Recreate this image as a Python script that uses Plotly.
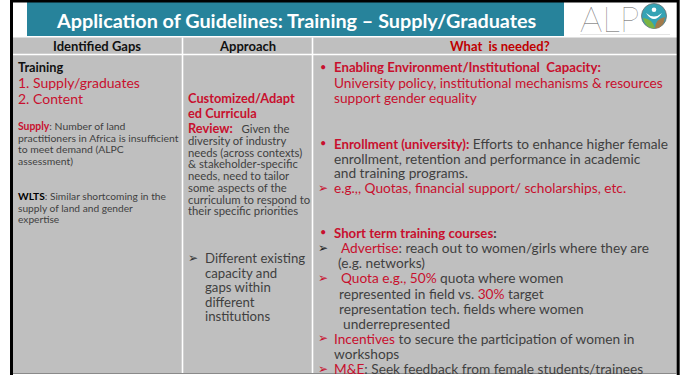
import plotly.graph_objects as go

# ---------------- content ----------------
title_text = "Application of Guidelines: Training – Supply/Graduates"
header_labels = ["Identified Gaps", "Approach", "What  is needed?"]
logo_letters = "ALP"

RED = "#C8102E"
GRAY = "#3F3F3F"
BOLD_SIZE = 13.2

def r(t):
    return f"<span style='color:{RED}'>{t}</span>"

def rb(t, size=None):
    st = f"color:{RED}" + (f";font-size:{size}px" if size else "")
    return f"<b><span style='{st}'>{t}</span></b>"

gaps_head = ["<b>Training</b>"]
gaps_items = [r("1. Supply/graduates"), r("2. Content")]
gaps_supply = [rb("Supply") + ": Number of land",
               "practitioners in Africa is insufficient",
               "to meet demand (ALPC",
               "assessment)"]
gaps_wlts = ["<b><span style='color:#000'>WLTS</span></b>: Similar shortcoming in the",
             "supply of land and gender",
             "expertise"]

approach_title = [rb("Customized/Adapt"), rb("ed Curricula")]
approach_review_first = rb("Review:") + "<span style='font-size:11.3px'>   Given the</span>"
approach_review = ["diversity of industry",
                   "needs (across contexts)",
                   "& stakeholder-specific",
                   "needs, need to tailor",
                   "some aspects of the",
                   "curriculum to respond to",
                   "their specific priorities"]
approach_bullet = ["Different existing",
                   "capacity and",
                   "gaps within",
                   "different",
                   "institutions"]

needed_enabling = [rb("Enabling Environment/Institutional  Capacity:", BOLD_SIZE),
                   r("University policy, institutional mechanisms & resources"),
                   r("support gender equality")]
needed_enroll = [rb("Enrollment (university):", BOLD_SIZE) + " Efforts to enhance higher female",
                 "enrollment, retention and performance in academic",
                 "and training programs."]
needed_eg = r("e.g.,, Quotas, financial support/ scholarships, etc.")
needed_short_head = rb("Short term training courses", BOLD_SIZE) + f"<b><span style='font-size:{BOLD_SIZE}px'>:</span></b>"
# (text, arrow colour or None, indent)
needed_short = [(r("Advertise") + ": reach out to women/girls where they are", "#222", 7),
                ("(e.g. networks)", None, 4),
                (r("Quota e.g., 50%") + " quota where women", RED, 7),
                ("represented in field vs. " + r("30%") + " target", None, 5),
                ("representation tech. fields where women", None, 5),
                ("underrepresented", None, 9),
                (r("Incentives") + " to secure the participation of women in", RED, 0),
                ("workshops", None, 0),
                (r("M&E") + ": Seek feedback from female students/trainees", RED, 0)]

# ---------------- figure ----------------
W, H = 685, 375
FONT = "Lato"
fig = go.Figure()
shapes = []
ann = []

def rect(x0, y0, x1, y1, fill):
    shapes.append(dict(type="rect", xref="x", yref="y", x0=x0, y0=y0, x1=x1, y1=y1,
                       fillcolor=fill, line=dict(width=0), layer="below"))

def line(x0, y0, x1, y1, color, w):
    shapes.append(dict(type="line", xref="x", yref="y", x0=x0, y0=y0, x1=x1, y1=y1,
                       line=dict(color=color, width=w)))

def text(x, y, t, size, color=GRAY, anchor="left", family=FONT):
    ann.append(dict(x=x, y=y, xref="x", yref="y", text=t, showarrow=False,
                    xanchor=anchor, yanchor="middle",
                    font=dict(size=size, color=color, family=family)))

def block(lines, x, y0, dy, size, color=GRAY):
    for i, t in enumerate(lines):
        text(x, y0 + i * dy, t, size, color)

def arrow(x, y, color, size=12):
    text(x, y, "➢", size, color, family="DejaVu Sans")

# background areas
rect(12, 1, 678, 374, "white")
rect(27, 2, 564, 36, "#27839B")
rect(13, 37.5, 677, 373, "#BFBFBF")
line(13, 54.5, 677, 54.5, "white", 1.6)
line(182.5, 37.5, 182.5, 373, "white", 1.6)
line(312.5, 37.5, 312.5, 373, "white", 1.6)
# frame
line(11.5, 0, 11.5, 375, "black", 3)
line(11, 1.2, 679, 1.2, "black", 2.4)
line(678.2, 0, 678.2, 375, "black", 3)
line(13, 373.5, 677, 373.5, "#8A8A8A", 1.2)

# title
text(296, 20, f"<b>{title_text}</b>", 19.8, "white", anchor="center")

# logo
text(578, 18, logo_letters, 35, "#5A5A5A", anchor="left", family="Lato Hairline")
cx, cy, rr = 654, 16, 12.5
shapes.append(dict(type="circle", xref="x", yref="y", x0=cx - rr, y0=cy - rr, x1=cx + rr, y1=cy + rr,
                   fillcolor="#35A3B5", line=dict(color="#6C6C6C", width=0.8)))
shapes.append(dict(type="path", xref="x", yref="y",
                   path=f"M {cx-11} {cy+2} Q {cx-9} {cy+12} {cx+1} {cy+12.5} Q {cx-1} {cy+3} {cx-11} {cy+2} Z",
                   fillcolor="#7CB342", line=dict(width=0)))
shapes.append(dict(type="path", xref="x", yref="y",
                   path=f"M {cx+11} {cy+1} Q {cx+10} {cy+12} {cx+1} {cy+12.5} Q {cx+1} {cy+3} {cx+11} {cy+1} Z",
                   fillcolor="#A47A4A", line=dict(width=0)))
shapes.append(dict(type="path", xref="x", yref="y",
                   path=f"M {cx-8} {cy-3} Q {cx} {cy+4} {cx+8} {cy-3} Q {cx} {cy+9} {cx-8} {cy-3} Z",
                   fillcolor="white", line=dict(width=0)))
shapes.append(dict(type="circle", xref="x", yref="y", x0=cx - 2.3, y0=cy - 8.5, x1=cx + 2.3, y1=cy - 3.9,
                   fillcolor="white", line=dict(width=0)))
line(580, 34.5, 670, 34.5, "#E4E4E4", 1)

# headers
text(97, 46, f"<b>{header_labels[0]}</b>", 13, "#111", anchor="center")
text(247, 46, f"<b>{header_labels[1]}</b>", 13, "#111", anchor="center")
text(500, 46, f"<b>{header_labels[2]}</b>", 13, "#C00000", anchor="center")

# column 1
block(gaps_head, 16, 67, 15, 12.8, "#111")
block(gaps_items, 16, 82, 16, 14)
block(gaps_supply, 16, 126, 11.7, 10.4)
block(gaps_wlts, 16, 196, 11.7, 10.2)

# column 2
block(approach_title, 186, 98, 15, 12.8)
text(186, 127.5, approach_review_first, 12.8)
block(approach_review, 186, 140.5, 11.7, 11.3)
arrow(186, 258, "#333", 12)
block(approach_bullet, 203, 258, 14.6, 13.2)

# column 3
S3 = 13.7
text(318, 66, f"<span style='color:{RED}'>•</span>", 11)
block(needed_enabling, 332, 67, 15.3, S3)
text(318, 142.3, f"<span style='color:{RED}'>•</span>", 11)
block(needed_enroll, 332, 143.3, 14.7, S3)
arrow(316, 187.7, RED)
text(332, 187.7, needed_eg, S3)
text(318, 231.7, f"<span style='color:{RED}'>•</span>", 11)
text(332, 232.7, needed_short_head, S3)
y = 247.7
for t, acol, indent in needed_short:
    if acol:
        arrow(316, y, acol)
    text(332 + indent, y, t, S3)
    y += 15.1

fig.update_layout(
    width=W, height=H, margin=dict(l=0, r=0, t=0, b=0),
    paper_bgcolor="white", plot_bgcolor="white",
    xaxis=dict(range=[0, W], visible=False, fixedrange=True),
    yaxis=dict(range=[H, 0], visible=False, fixedrange=True),
    shapes=shapes, annotations=ann, showlegend=False,
    font=dict(family=FONT),
)
fig.write_html("out.html", config={"displayModeBar": False},
               post_script="document.body.style.margin='0px';document.body.style.overflow='hidden';")
